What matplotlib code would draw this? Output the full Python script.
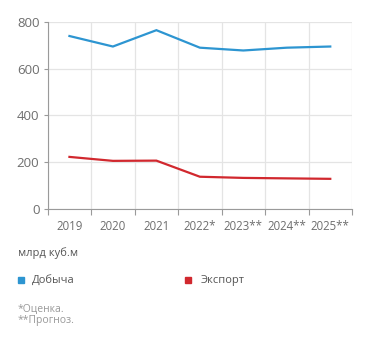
import matplotlib.pyplot as plt
from matplotlib.patches import Rectangle

plt.rcParams['font.family'] = ['Open Sans', 'DejaVu Sans']

years = ['2019', '2020', '2021', '2022*', '2023**', '2024**', '2025**']
production = [740, 695, 765, 690, 678, 690, 695]
export = [222, 205, 206, 137, 132, 130, 128]
y_ticks = [0, 200, 400, 600, 800]

blue = '#2d95d1'
red = '#d1282e'
grid_col = '#e4e4e4'
axis_col = '#9a9a9a'
text_col = '#6e6e6e'

fig = plt.figure(figsize=(3.71, 3.44), dpi=100)
ax = fig.add_axes([0.1286, 0.3933, 0.8202, 0.5427])

x = range(len(years))
ax.plot(x, production, color=blue, linewidth=1.6, solid_joinstyle='miter')
ax.plot(x, export, color=red, linewidth=1.6, solid_joinstyle='miter')

ax.set_xlim(-0.5, len(years) - 0.5)
ax.set_ylim(0, 800)
ax.set_xticks(list(x))
ax.set_xticklabels(years)
ax.set_xticks([i - 0.5 for i in range(len(years) + 1)], minor=True)
ax.set_yticks(y_ticks)

ax.grid(True, which='minor', axis='x', color=grid_col, linewidth=0.9)
ax.grid(True, which='major', axis='y', color=grid_col, linewidth=0.9)
ax.set_axisbelow(True)

for s in ['top', 'right']:
    ax.spines[s].set_visible(False)
for s in ['left', 'bottom']:
    ax.spines[s].set_color(axis_col)
    ax.spines[s].set_linewidth(0.8)

ax.tick_params(axis='x', which='major', length=0, pad=8, labelsize=8.3, labelcolor=text_col)
ax.tick_params(axis='x', which='minor', length=4, color=axis_col, width=0.8)
ax.tick_params(axis='y', length=3, color=axis_col, width=0.8, pad=3, labelsize=9.5, labelcolor=text_col)

fig.text(18 / 371, 1 - 253 / 344, 'млрд куб.м', fontsize=8, color='#555555', va='center')

fig.patches.append(Rectangle((18 / 371, 1 - 283 / 344), 6 / 371, 6 / 344,
                             transform=fig.transFigure, color=blue))
fig.text(32 / 371, 1 - 280 / 344, 'Добыча', fontsize=8, color='#555555', va='center')
fig.patches.append(Rectangle((185 / 371, 1 - 283 / 344), 6 / 371, 6 / 344,
                             transform=fig.transFigure, color=red))
fig.text(201 / 371, 1 - 280 / 344, 'Экспорт', fontsize=8, color='#555555', va='center')

fig.text(18 / 371, 1 - 309 / 344, '*Оценка.', fontsize=7.5, color='#999999', va='center')
fig.text(18 / 371, 1 - 321 / 344, '**Прогноз.', fontsize=7.5, color='#999999', va='center')

fig.savefig('out.png', dpi=100, facecolor='white')
